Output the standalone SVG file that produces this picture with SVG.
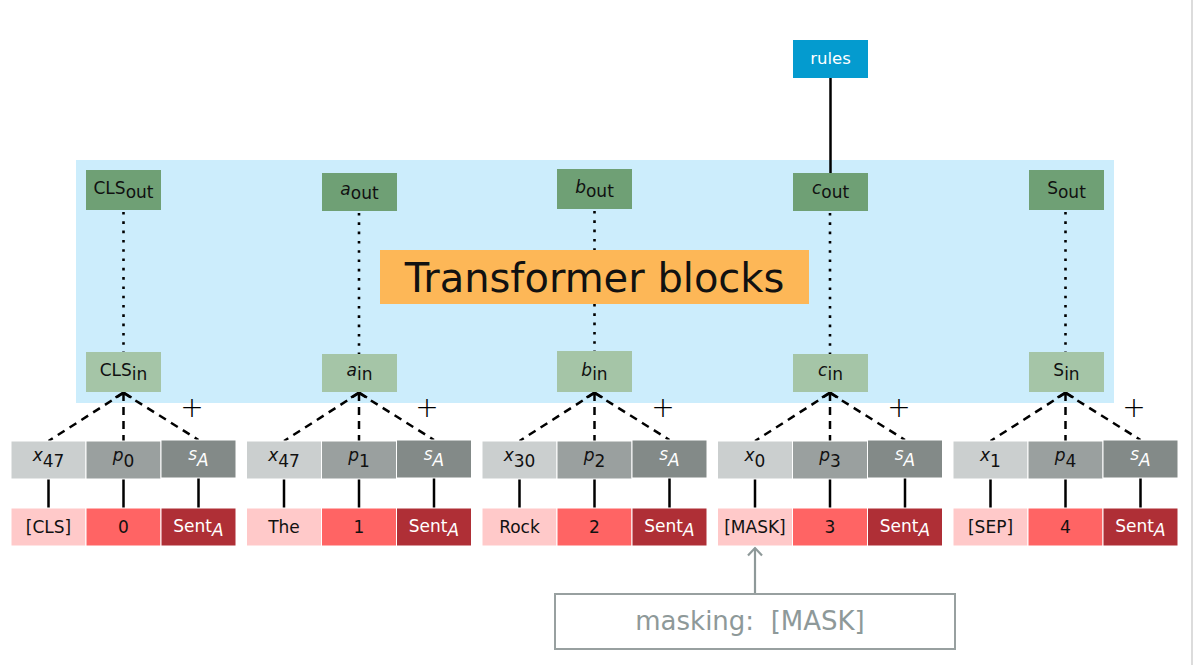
<svg xmlns="http://www.w3.org/2000/svg" width="1193" height="665" viewBox="0 0 1193 665">
<defs>
<style>
text{font-family:"DejaVu Sans","Liberation Sans",sans-serif;font-size:17px;text-anchor:middle;fill:#111}
.it{font-style:italic}
.w{fill:#fff}
.bg{fill:#CCEDFC}
.out{fill:#6FA075}
.in{fill:#A5C5A7}
.rules{fill:#049BCF}
.tb{fill:#FDB757}
.xb{fill:#CBCFCF;stroke:#fff;stroke-width:1}
.pb{fill:#9AA09F;stroke:#fff;stroke-width:1}
.sb{fill:#838A88;stroke:#fff;stroke-width:1}
.tk{fill:#FFC9C9;stroke:#fff;stroke-width:1}
.ps{fill:#FF6464;stroke:#fff;stroke-width:1}
.sn{fill:#AF2F36;stroke:#fff;stroke-width:1}
.dash{stroke:#000;stroke-width:2.5;stroke-dasharray:8 6;fill:none}
.dot{stroke:#000;stroke-width:2.6;stroke-dasharray:2.6 6.7;fill:none}
.solid{stroke:#000;stroke-width:2.5;fill:none}
.head{stroke:#000;stroke-width:2.5;fill:none}
.plus{font-size:28px;font-weight:200;fill:#000}
</style>
</defs>
<rect x="0" y="0" width="1193" height="665" fill="#fff"/>
<rect x="1191" y="0" width="2" height="665" fill="#dcdcdc"/>
<rect id="transformer-area" class="bg" x="76" y="160" width="1038" height="243"/>

<g id="connectors">
  <line class="solid" x1="830.5" y1="78" x2="830.5" y2="173"/>
  <line class="dot" x1="123.5" y1="212" x2="123.5" y2="352"/>
  <line class="dot" x1="359" y1="213" x2="359" y2="354"/>
  <line class="dot" x1="594.5" y1="211" x2="594.5" y2="351"/>
  <line class="dot" x1="830" y1="213" x2="830" y2="354"/>
  <line class="dot" x1="1065.5" y1="212" x2="1065.5" y2="352"/>
  <g id="emb-1">
    <path class="dash" d="M123.5,393 L48.5,441 M123.5,393 L123.5,441 M123.5,393 L198.5,440"/>
    <path class="head" d="M115.5,397.5 L123.5,392.5 L131.5,397.5"/>
    <path class="solid" d="M48.5,479 V508 M123.5,479 V508 M198.5,478 V508"/>
  </g>
  <g id="emb-2">
    <path class="dash" d="M359,393 L284,441 M359,393 L359,441 M359,393 L434,440"/>
    <path class="head" d="M351,397.5 L359,392.5 L367,397.5"/>
    <path class="solid" d="M284,479 V508 M359,479 V508 M434,478 V508"/>
  </g>
  <g id="emb-3">
    <path class="dash" d="M594.5,393 L519.5,441 M594.5,393 L594.5,441 M594.5,393 L669.5,440"/>
    <path class="head" d="M586.5,397.5 L594.5,392.5 L602.5,397.5"/>
    <path class="solid" d="M519.5,479 V508 M594.5,479 V508 M669.5,478 V508"/>
  </g>
  <g id="emb-4">
    <path class="dash" d="M830,393 L755,441 M830,393 L830,441 M830,393 L905,440"/>
    <path class="head" d="M822,397.5 L830,392.5 L838,397.5"/>
    <path class="solid" d="M755,479 V508 M830,479 V508 M905,478 V508"/>
  </g>
  <g id="emb-5">
    <path class="dash" d="M1065.5,393 L990.5,441 M1065.5,393 L1065.5,441 M1065.5,393 L1140.5,440"/>
    <path class="head" d="M1057.5,397.5 L1065.5,392.5 L1073.5,397.5"/>
    <path class="solid" d="M990.5,479 V508 M1065.5,479 V508 M1140.5,478 V508"/>
  </g>
  <g id="mask-arrow">
    <line x1="755" y1="594" x2="755" y2="549" stroke="#8E9999" stroke-width="2.2"/>
    <path d="M748,555.5 L755,548 L762,555.5" stroke="#8E9999" stroke-width="2.2" fill="none"/>
  </g>
</g>

<g id="transformer-blocks">
  <rect class="tb" x="380" y="250" width="429" height="54"/>
  <text x="594.5" y="292" style="font-size:40px">Transformer blocks</text>
</g>

<g id="rules">
  <rect class="rules" x="793" y="40" width="75" height="38"/>
  <text class="w" x="830.5" y="64" style="font-size:16.5px">rules</text>
</g>

<g id="cls-out"><rect class="out" x="86" y="170" width="75" height="40"/><text x="123.5" y="194">CLS<tspan dy="4">out</tspan></text></g>
<g id="a-out"><rect class="out" x="322" y="173" width="75" height="38"/><text x="359.5" y="195"><tspan class="it">a</tspan><tspan dy="4">out</tspan></text></g>
<g id="b-out"><rect class="out" x="557" y="169" width="75" height="40"/><text x="594.5" y="193"><tspan class="it">b</tspan><tspan dy="4">out</tspan></text></g>
<g id="c-out"><rect class="out" x="793" y="173" width="75" height="38"/><text x="830.5" y="194"><tspan class="it">c</tspan><tspan dy="4">out</tspan></text></g>
<g id="s-out"><rect class="out" x="1029" y="170" width="75" height="40"/><text x="1066.5" y="193.5">S<tspan dy="4">out</tspan></text></g>

<g id="cls-in"><rect class="in" x="86" y="352" width="75" height="40"/><text x="123.5" y="376">CLS<tspan dy="4">in</tspan></text></g>
<g id="a-in"><rect class="in" x="322" y="354" width="75" height="38"/><text x="359.5" y="376"><tspan class="it">a</tspan><tspan dy="4">in</tspan></text></g>
<g id="b-in"><rect class="in" x="557" y="351" width="75" height="41"/><text x="594.5" y="375.5"><tspan class="it">b</tspan><tspan dy="4">in</tspan></text></g>
<g id="c-in"><rect class="in" x="793" y="354" width="75" height="38"/><text x="830.5" y="376"><tspan class="it">c</tspan><tspan dy="4">in</tspan></text></g>
<g id="s-in"><rect class="in" x="1029" y="352" width="75" height="40"/><text x="1066.5" y="376">S<tspan dy="4">in</tspan></text></g>

<g id="plus-signs">
  <text class="plus" x="192" y="417">+</text>
  <text class="plus" x="427" y="417">+</text>
  <text class="plus" x="663" y="417">+</text>
  <text class="plus" x="899" y="417">+</text>
  <text class="plus" x="1134" y="417">+</text>
</g>

<g id="x-47a"><rect class="xb" x="11" y="441" width="75" height="38"/><text x="48.5" y="461"><tspan class="it">x</tspan><tspan dy="6">47</tspan></text></g>
<g id="p-0"><rect class="pb" x="86" y="441" width="75" height="38"/><text x="123.5" y="461"><tspan class="it">p</tspan><tspan dy="6">0</tspan></text></g>
<g id="s-a-1"><rect class="sb" x="161" y="440" width="75" height="38"/><text class="w" x="198.5" y="460"><tspan class="it">s</tspan><tspan class="it" dy="6">A</tspan></text></g>
<g id="tok-cls"><rect class="tk" x="11" y="508" width="75" height="38"/><text x="48.5" y="533">[CLS]</text></g>
<g id="pos-0"><rect class="ps" x="86" y="508" width="75" height="38"/><text x="123.5" y="533">0</text></g>
<g id="sent-1"><rect class="sn" x="161" y="508" width="75" height="38"/><text class="w" x="198.5" y="532">Sent<tspan class="it" dy="4">A</tspan></text></g>

<g id="x-47b"><rect class="xb" x="246.5" y="441" width="75" height="38"/><text x="284" y="461"><tspan class="it">x</tspan><tspan dy="6">47</tspan></text></g>
<g id="p-1"><rect class="pb" x="321.5" y="441" width="75" height="38"/><text x="359" y="461"><tspan class="it">p</tspan><tspan dy="6">1</tspan></text></g>
<g id="s-a-2"><rect class="sb" x="396.5" y="440" width="75" height="38"/><text class="w" x="434" y="460"><tspan class="it">s</tspan><tspan class="it" dy="6">A</tspan></text></g>
<g id="tok-the"><rect class="tk" x="246.5" y="508" width="75" height="38"/><text x="284" y="533">The</text></g>
<g id="pos-1"><rect class="ps" x="321.5" y="508" width="75" height="38"/><text x="359" y="533">1</text></g>
<g id="sent-2"><rect class="sn" x="396.5" y="508" width="75" height="38"/><text class="w" x="434" y="532">Sent<tspan class="it" dy="4">A</tspan></text></g>

<g id="x-30"><rect class="xb" x="482" y="441" width="75" height="38"/><text x="519.5" y="461"><tspan class="it">x</tspan><tspan dy="6">30</tspan></text></g>
<g id="p-2"><rect class="pb" x="557" y="441" width="75" height="38"/><text x="594.5" y="461"><tspan class="it">p</tspan><tspan dy="6">2</tspan></text></g>
<g id="s-a-3"><rect class="sb" x="632" y="440" width="75" height="38"/><text class="w" x="669.5" y="460"><tspan class="it">s</tspan><tspan class="it" dy="6">A</tspan></text></g>
<g id="tok-rock"><rect class="tk" x="482" y="508" width="75" height="38"/><text x="519.5" y="533">Rock</text></g>
<g id="pos-2"><rect class="ps" x="557" y="508" width="75" height="38"/><text x="594.5" y="533">2</text></g>
<g id="sent-3"><rect class="sn" x="632" y="508" width="75" height="38"/><text class="w" x="669.5" y="532">Sent<tspan class="it" dy="4">A</tspan></text></g>

<g id="x-0"><rect class="xb" x="717.5" y="441" width="75" height="38"/><text x="755" y="461"><tspan class="it">x</tspan><tspan dy="6">0</tspan></text></g>
<g id="p-3"><rect class="pb" x="792.5" y="441" width="75" height="38"/><text x="830" y="461"><tspan class="it">p</tspan><tspan dy="6">3</tspan></text></g>
<g id="s-a-4"><rect class="sb" x="867.5" y="440" width="75" height="38"/><text class="w" x="905" y="460"><tspan class="it">s</tspan><tspan class="it" dy="6">A</tspan></text></g>
<g id="tok-mask"><rect class="tk" x="717.5" y="508" width="75" height="38"/><text x="755" y="533">[MASK]</text></g>
<g id="pos-3"><rect class="ps" x="792.5" y="508" width="75" height="38"/><text x="830" y="533">3</text></g>
<g id="sent-4"><rect class="sn" x="867.5" y="508" width="75" height="38"/><text class="w" x="905" y="532">Sent<tspan class="it" dy="4">A</tspan></text></g>

<g id="x-1"><rect class="xb" x="953" y="441" width="75" height="38"/><text x="990.5" y="461"><tspan class="it">x</tspan><tspan dy="6">1</tspan></text></g>
<g id="p-4"><rect class="pb" x="1028" y="441" width="75" height="38"/><text x="1065.5" y="461"><tspan class="it">p</tspan><tspan dy="6">4</tspan></text></g>
<g id="s-a-5"><rect class="sb" x="1103" y="440" width="75" height="38"/><text class="w" x="1140.5" y="460"><tspan class="it">s</tspan><tspan class="it" dy="6">A</tspan></text></g>
<g id="tok-sep"><rect class="tk" x="953" y="508" width="75" height="38"/><text x="990.5" y="533">[SEP]</text></g>
<g id="pos-4"><rect class="ps" x="1028" y="508" width="75" height="38"/><text x="1065.5" y="533">4</text></g>
<g id="sent-5"><rect class="sn" x="1103" y="508" width="75" height="38"/><text class="w" x="1140.5" y="532">Sent<tspan class="it" dy="4">A</tspan></text></g>

<g id="masking">
  <rect x="555" y="594" width="400" height="55" fill="#fff" stroke="#98A0A0" stroke-width="2"/>
  <text x="750" y="630" style="font-size:26px;fill:#8E9999;white-space:pre">masking:  [MASK]</text>
</g>
</svg>
